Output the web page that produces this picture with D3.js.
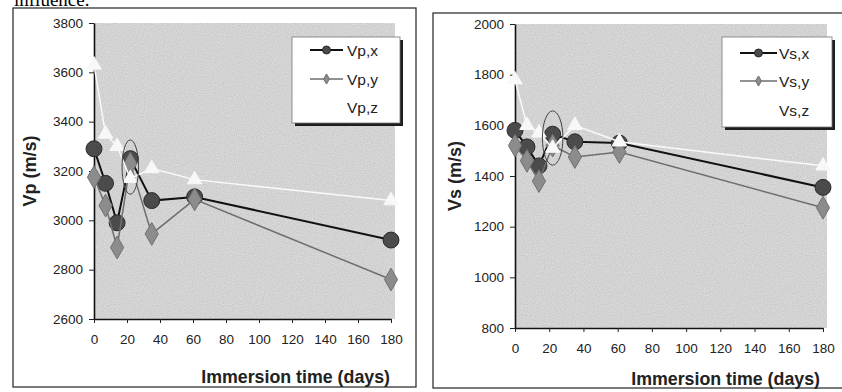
<!DOCTYPE html>
<html>
<head>
<meta charset="utf-8">
<script src="https://cdn.jsdelivr.net/npm/d3@7"></script>
<style>
  body { margin: 0; background: #fff; }
  svg { display: block; font-family: "Liberation Sans", Arial, sans-serif; }
</style>
</head>
<body>
<svg id="chart" width="842" height="392"></svg>
<script>
// immersion times (days), shared by every series
var days = [0, 7, 14, 22, 35, 61, 180];
var xTicks = [0, 20, 40, 60, 80, 100, 120, 140, 160, 180];

// P-wave velocities (m/s)
var vpX = [3290, 3150, 2990, 3250, 3080, 3095, 2920];
var vpY = [3175, 3060, 2890, 3230, 2945, 3085, 2760];
var vpZ = [3630, 3350, 3300, 3170, 3210, 3165, 3080];
var vpTicks = [2600, 2800, 3000, 3200, 3400, 3600, 3800];

// S-wave velocities (m/s)
var vsX = [1580, 1515, 1440, 1565, 1535, 1530, 1355];
var vsY = [1520, 1460, 1380, 1520, 1475, 1495, 1275];
var vsZ = [1780, 1600, 1570, 1510, 1600, 1535, 1440];
var vsTicks = [800, 1000, 1200, 1400, 1600, 1800, 2000];

// circled points: [day, value, radius in days, radius in m/s]
var vpCircle = [22, 3216, 5, 110];
var vsCircle = [22, 1550, 6, 107];

var svg = d3.select("#chart");

// scanned-paper grain for the plot area
var defs = svg.append("defs");
var f = defs.append("filter").attr("id", "grain").attr("x", 0).attr("y", 0).attr("width", 1).attr("height", 1);
f.append("feTurbulence").attr("type", "fractalNoise").attr("baseFrequency", 0.9).attr("numOctaves", 1).attr("seed", 3);
f.append("feColorMatrix").attr("type", "matrix")
  .attr("values", "0 0 0 0 0  0 0 0 0 0  0 0 0 0 0  0 0 0 -1.1 0.75");
f.append("feComposite").attr("in2", "SourceGraphic").attr("operator", "in");

// cropped line of the page text above the figure
svg.append("text")
  .attr("x", 14).attr("y", 6)
  .style("font-family", "'Liberation Serif', 'Times New Roman', serif")
  .style("font-size", "19px")
  .text("influence.");

var panels = [
  {
    frame: [13, 8, 403, 379],
    xr: [94, 391], plotRight: 395,
    yd: [2600, 3800], yr: [319, 23],
    yTicks: vpTicks, yTitle: "Vp (m/s)", yTitleX: 36,
    xTitleX: 390, xTitleY: 383, xLabY: 344,
    series: [vpX, vpY, vpZ], names: ["Vp,x", "Vp,y", "Vp,z"],
    ring: vpCircle,
    legend: {box: [292, 37, 108, 86], rows: [50, 79, 107], line: [310, 343], text: 347}
  },
  {
    frame: [433, 13, 420, 375],
    xr: [515, 823], plotRight: 827,
    yd: [800, 2000], yr: [328, 24],
    yTicks: vsTicks, yTitle: "Vs (m/s)", yTitleX: 461,
    xTitleX: 820, xTitleY: 385, xLabY: 353,
    series: [vsX, vsY, vsZ], names: ["Vs,x", "Vs,y", "Vs,z"],
    ring: vsCircle,
    legend: {box: [722, 37, 110, 90], rows: [53, 81, 110], line: [740, 777], text: 779}
  }
];

var styles = [
  {line: "#111", width: 2, symbol: d3.symbolCircle, size: 200, fill: "#4b4b4b", stroke: "#2a2a2a", lsize: 50},
  {line: "#6e6e6e", width: 1.5, symbol: d3.symbolDiamond, size: 150, fill: "#8c8c8c", stroke: "#707070", lsize: 30},
  {line: "#fafafa", width: 1.5, symbol: d3.symbolTriangle, size: 90, fill: "#f8f8f8", stroke: "#f8f8f8", lsize: 0}
];

panels.forEach(function(p) {
  var x = d3.scaleLinear().domain([0, 180]).range(p.xr);
  var y = d3.scaleLinear().domain(p.yd).range(p.yr);

  svg.append("rect")
    .attr("x", p.frame[0]).attr("y", p.frame[1])
    .attr("width", p.frame[2]).attr("height", p.frame[3])
    .attr("fill", "none").attr("stroke", "#333").attr("stroke-width", 1.3);

  var pw = p.plotRight - p.xr[0], ph = p.yr[0] - p.yr[1];
  svg.append("rect")
    .attr("x", p.xr[0]).attr("y", p.yr[1]).attr("width", pw).attr("height", ph)
    .attr("fill", "#dadada");
  svg.append("rect")
    .attr("x", p.xr[0]).attr("y", p.yr[1]).attr("width", pw).attr("height", ph)
    .attr("fill", "#000").attr("opacity", 0.16).attr("filter", "url(#grain)");

  var gy = svg.append("g")
    .attr("transform", "translate(" + p.xr[0] + ",0)")
    .call(d3.axisLeft(y).tickValues(p.yTicks).tickFormat(d3.format("d"))
      .tickSize(5).tickPadding(6).tickSizeOuter(0));
  var gx = svg.append("g")
    .attr("transform", "translate(0," + p.yr[0] + ")")
    .call(d3.axisBottom(x).tickValues(xTicks).tickFormat(d3.format("d"))
      .tickSize(4).tickPadding(0).tickSizeOuter(0));
  [gx, gy].forEach(function(g) {
    g.select(".domain").attr("stroke", "#111").attr("stroke-width", 1.6);
    g.selectAll(".tick line").attr("stroke", "#222");
    g.selectAll("text").attr("fill", "#222").style("font-size", "13.5px");
  });
  gx.selectAll("text").attr("dy", null).attr("y", p.xLabY - p.yr[0]);

  svg.append("text")
    .attr("transform", "translate(" + p.yTitleX + "," + (p.yr[0] + p.yr[1]) / 2 + ") rotate(-90)")
    .attr("text-anchor", "middle")
    .style("font-weight", "bold").style("font-size", "18px").attr("fill", "#222")
    .text(p.yTitle);
  svg.append("text")
    .attr("x", p.xTitleX).attr("y", p.xTitleY)
    .attr("text-anchor", "end")
    .style("font-weight", "bold").style("font-size", "17.8px").attr("fill", "#222")
    .text("Immersion time (days)");

  var line = d3.line()
    .x(function(d, i) { return x(days[i]); })
    .y(function(d) { return y(d); });

  p.series.forEach(function(vals, k) {
    var s = styles[k];
    svg.append("path").datum(vals)
      .attr("d", line).attr("fill", "none")
      .attr("stroke", s.line).attr("stroke-width", s.width);
    svg.append("g").selectAll("path").data(vals).join("path")
      .attr("transform", function(d, i) { return "translate(" + x(days[i]) + "," + y(d) + ")"; })
      .attr("d", d3.symbol().type(s.symbol).size(s.size))
      .attr("fill", s.fill).attr("stroke", s.stroke).attr("stroke-width", 1);
  });

  // hand-drawn ring around the anomalous points
  var r = p.ring;
  svg.append("ellipse")
    .attr("cx", x(r[0])).attr("cy", y(r[1]))
    .attr("rx", x(r[2]) - x(0)).attr("ry", y(p.yd[0]) - y(p.yd[0] + r[3]))
    .attr("fill", "none").attr("stroke", "#444").attr("stroke-width", 1);

  // legend
  var L = p.legend;
  svg.append("rect")
    .attr("x", L.box[0] + 3).attr("y", L.box[1] + 3).attr("width", L.box[2]).attr("height", L.box[3])
    .attr("fill", "#1e1e1e");
  svg.append("rect")
    .attr("x", L.box[0]).attr("y", L.box[1]).attr("width", L.box[2]).attr("height", L.box[3])
    .attr("fill", "#fff").attr("stroke", "#777").attr("stroke-width", 0.8);
  p.names.forEach(function(name, k) {
    var s = styles[k], cy = L.rows[k], mid = (L.line[0] + L.line[1]) / 2;
    if (s.lsize > 0) {
      svg.append("line")
        .attr("x1", L.line[0]).attr("x2", L.line[1]).attr("y1", cy).attr("y2", cy)
        .attr("stroke", s.line).attr("stroke-width", s.width);
      svg.append("path")
        .attr("transform", "translate(" + mid + "," + cy + ")")
        .attr("d", d3.symbol().type(s.symbol).size(s.lsize))
        .attr("fill", s.fill).attr("stroke", s.stroke);
    }
    svg.append("text")
      .attr("x", L.text).attr("y", cy + 5.5)
      .style("font-size", "15.5px").attr("fill", "#222")
      .text(name);
  });
});
</script>
</body>
</html>
